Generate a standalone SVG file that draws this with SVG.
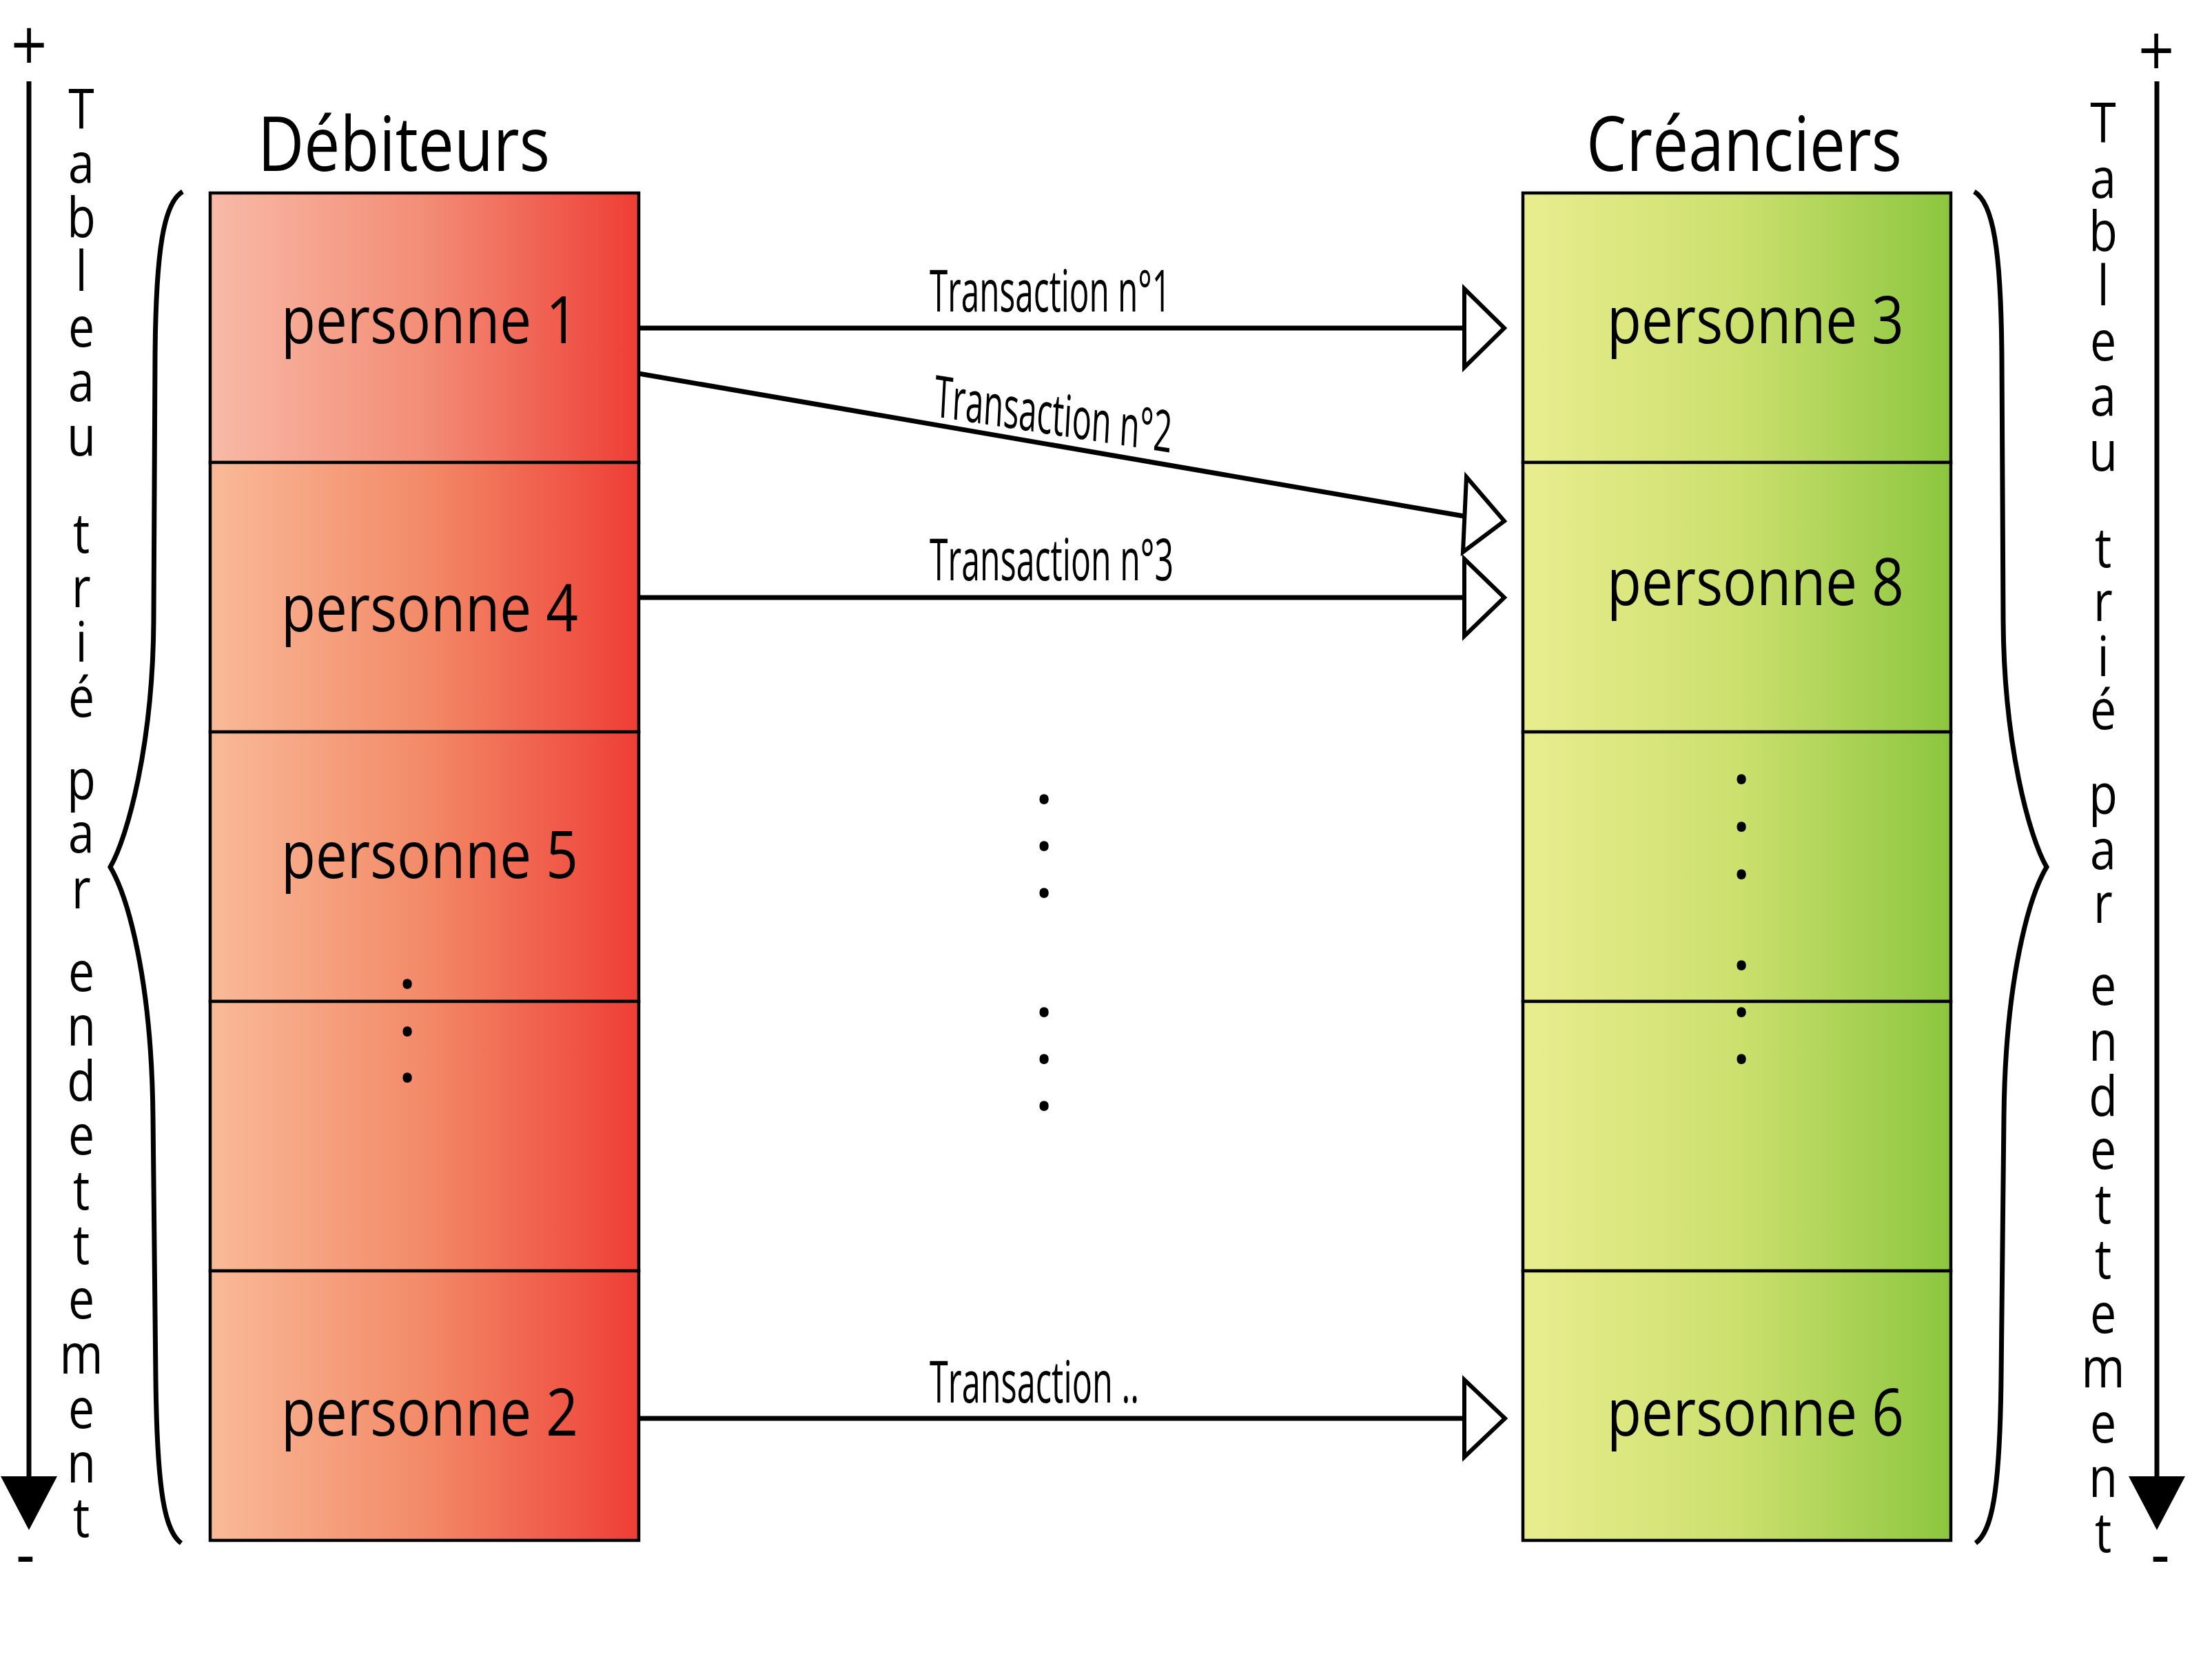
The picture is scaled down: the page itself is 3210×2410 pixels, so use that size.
<svg xmlns="http://www.w3.org/2000/svg" width="3210" height="2410" viewBox="0 0 3210 2410">
<defs>
<linearGradient id="gRed1" x1="0" y1="0" x2="1" y2="0">
<stop offset="0" stop-color="#F8BAA7"/>
<stop offset="0.5" stop-color="#F38D76"/>
<stop offset="1" stop-color="#EE3E35"/>
</linearGradient>
<linearGradient id="gRed" x1="0" y1="0" x2="1" y2="0">
<stop offset="0" stop-color="#F9BA98"/>
<stop offset="0.5" stop-color="#F38A68"/>
<stop offset="1" stop-color="#EE3E35"/>
</linearGradient>
<linearGradient id="gGreen" x1="0" y1="0" x2="1" y2="0">
<stop offset="0" stop-color="#E9ED8F"/>
<stop offset="0.5" stop-color="#CCE06E"/>
<stop offset="1" stop-color="#8CC63F"/>
</linearGradient>
<path id="brace" d="M265,278 C238,294 226,360 225,520 L223,900 C222,1080 185,1215 160,1258 C185,1300 220,1420 222,1620 L226,2000 C228,2170 240,2222 263,2239"/>
</defs>
<style>
text { font-family: "Open Sans", "Liberation Sans", sans-serif; fill: #000; }
.cell { stroke: #000; stroke-width: 4.5; }
.lbl { font-size: 96px; }
.title { font-size: 109px; }
.tr { font-size: 84px; }
.conn { stroke: #000; stroke-width: 7; fill: none; }
.head { fill: #fff; stroke: #000; stroke-width: 6; stroke-linejoin: miter; }
.brace { fill: none; stroke: #000; stroke-width: 7; }
.axis { stroke: #000; stroke-width: 7; }
.vtxt { font-size: 80px; text-anchor: middle; }
.plus { font-family: "DejaVu Sans", sans-serif; font-size: 81px; text-anchor: middle; }
.minus { font-size: 100px; text-anchor: middle; }
.dot { font-size: 115px; text-anchor: middle; }
</style>

<!-- left axis -->
<g id="axis-left">
<line class="axis" x1="42" y1="118" x2="42" y2="2150"/>
<polygon points="1,2142 83,2142 42,2220" fill="#000"/>
<text class="plus" transform="translate(42,91) scale(0.85,1)">+</text>
<text class="minus" transform="translate(37,2289) scale(0.85,1)">-</text>
<g transform="translate(118,0) scale(0.85,1)">
<text class="vtxt"><tspan x="0" y="187">T</tspan><tspan x="0" y="265">a</tspan><tspan x="0" y="344">b</tspan><tspan x="0" y="422">l</tspan><tspan x="0" y="503">e</tspan><tspan x="0" y="582">a</tspan><tspan x="0" y="661">u</tspan><tspan x="0" y="735"> </tspan><tspan x="0" y="802">t</tspan><tspan x="0" y="881">r</tspan><tspan x="0" y="960">i</tspan><tspan x="0" y="1040">é</tspan><tspan x="0" y="1100"> </tspan><tspan x="0" y="1160">p</tspan><tspan x="0" y="1237">a</tspan><tspan x="0" y="1318">r</tspan><tspan x="0" y="1380"> </tspan><tspan x="0" y="1438">e</tspan><tspan x="0" y="1517">n</tspan><tspan x="0" y="1597">d</tspan><tspan x="0" y="1675">e</tspan><tspan x="0" y="1755">t</tspan><tspan x="0" y="1834">t</tspan><tspan x="0" y="1913">e</tspan><tspan x="0" y="1993">m</tspan><tspan x="0" y="2072">e</tspan><tspan x="0" y="2151">n</tspan><tspan x="0" y="2230">t</tspan></text>
</g>
</g>

<!-- right axis -->
<g id="axis-right">
<line class="axis" x1="3130" y1="118" x2="3130" y2="2150"/>
<polygon points="3089,2142 3171,2142 3130,2220" fill="#000"/>
<text class="plus" transform="translate(3129,99) scale(0.85,1)">+</text>
<text class="minus" transform="translate(3135,2289) scale(0.85,1)">-</text>
<g transform="translate(3052,0) scale(0.85,1)">
<text class="vtxt"><tspan x="0" y="207">T</tspan><tspan x="0" y="287">a</tspan><tspan x="0" y="364">b</tspan><tspan x="0" y="443">l</tspan><tspan x="0" y="523">e</tspan><tspan x="0" y="603">a</tspan><tspan x="0" y="683">u</tspan><tspan x="0" y="755"> </tspan><tspan x="0" y="823">t</tspan><tspan x="0" y="901">r</tspan><tspan x="0" y="981">i</tspan><tspan x="0" y="1058">é</tspan><tspan x="0" y="1120"> </tspan><tspan x="0" y="1181">p</tspan><tspan x="0" y="1261">a</tspan><tspan x="0" y="1339">r</tspan><tspan x="0" y="1400"> </tspan><tspan x="0" y="1458">e</tspan><tspan x="0" y="1539">n</tspan><tspan x="0" y="1619">d</tspan><tspan x="0" y="1696">e</tspan><tspan x="0" y="1775">t</tspan><tspan x="0" y="1855">t</tspan><tspan x="0" y="1934">e</tspan><tspan x="0" y="2013">m</tspan><tspan x="0" y="2093">e</tspan><tspan x="0" y="2172">n</tspan><tspan x="0" y="2252">t</tspan></text>
</g>
</g>

<!-- braces -->
<g id="brace-left"><use href="#brace" class="brace"/></g>
<g id="brace-right"><use href="#brace" class="brace" transform="translate(3130,0) scale(-1,1)"/></g>

<!-- titles -->
<g id="title-debiteurs"><text class="title" x="374" y="248" textLength="424" lengthAdjust="spacingAndGlyphs">Débiteurs</text></g>
<g id="title-creanciers"><text class="title" x="2302" y="248" textLength="458" lengthAdjust="spacingAndGlyphs">Créanciers</text></g>

<!-- debtor cells -->
<g id="personne1"><rect class="cell" x="305" y="280" width="622" height="391" fill="url(#gRed1)"/><text class="lbl" x="408" y="498" textLength="431" lengthAdjust="spacingAndGlyphs">personne 1</text></g>
<g id="personne4"><rect class="cell" x="305" y="671" width="622" height="391" fill="url(#gRed)"/><text class="lbl" x="408" y="916" textLength="431" lengthAdjust="spacingAndGlyphs">personne 4</text></g>
<g id="personne5"><rect class="cell" x="305" y="1062" width="622" height="391" fill="url(#gRed)"/><text class="lbl" x="408" y="1274" textLength="431" lengthAdjust="spacingAndGlyphs">personne 5</text></g>
<g id="debiteur-vide"><rect class="cell" x="305" y="1453" width="622" height="391" fill="url(#gRed)"/></g>
<g id="personne2"><rect class="cell" x="305" y="1844" width="622" height="391" fill="url(#gRed)"/><text class="lbl" x="408" y="2083" textLength="431" lengthAdjust="spacingAndGlyphs">personne 2</text></g>
<g id="dots-left"><text class="dot"><tspan x="591" y="1433">.</tspan><tspan x="591" y="1502">.</tspan><tspan x="591" y="1569">.</tspan></text></g>

<!-- creditor cells -->
<g id="personne3"><rect class="cell" x="2210" y="280" width="621" height="391" fill="url(#gGreen)"/><text class="lbl" x="2332" y="498" textLength="431" lengthAdjust="spacingAndGlyphs">personne 3</text></g>
<g id="personne8"><rect class="cell" x="2210" y="671" width="621" height="391" fill="url(#gGreen)"/><text class="lbl" x="2332" y="878" textLength="431" lengthAdjust="spacingAndGlyphs">personne 8</text></g>
<g id="creancier-vide1"><rect class="cell" x="2210" y="1062" width="621" height="391" fill="url(#gGreen)"/></g>
<g id="creancier-vide2"><rect class="cell" x="2210" y="1453" width="621" height="391" fill="url(#gGreen)"/></g>
<g id="personne6"><rect class="cell" x="2210" y="1844" width="621" height="391" fill="url(#gGreen)"/><text class="lbl" x="2332" y="2083" textLength="431" lengthAdjust="spacingAndGlyphs">personne 6</text></g>
<g id="dots-right"><text class="dot"><tspan x="2527" y="1136">.</tspan><tspan x="2527" y="1205">.</tspan><tspan x="2527" y="1274">.</tspan><tspan x="2527" y="1406">.</tspan><tspan x="2527" y="1474">.</tspan><tspan x="2527" y="1542">.</tspan></text></g>

<!-- connectors -->
<g id="connectors">
<line class="conn" x1="927" y1="476" x2="2125" y2="476"/>
<polygon class="head" points="2125,419 2183,476 2125,533"/>
<text class="tr" x="1349" y="452" textLength="350" lengthAdjust="spacingAndGlyphs">Transaction n°1</text>

<line class="conn" x1="927" y1="542" x2="2125" y2="749"/>
<polygon class="head" points="2128,692 2183,756 2123,801"/>
<text class="tr" transform="translate(1355,604) scale(0.58,1) rotate(5.1)" x="0" y="0" textLength="596" lengthAdjust="spacingAndGlyphs">Transaction n°2</text>

<line class="conn" x1="927" y1="867" x2="2125" y2="867"/>
<polygon class="head" points="2125,811 2183,867 2125,923"/>
<text class="tr" x="1349" y="842" textLength="354" lengthAdjust="spacingAndGlyphs">Transaction n°3</text>

<line class="conn" x1="927" y1="2058" x2="2125" y2="2058"/>
<polygon class="head" points="2125,2002 2184,2058 2125,2114"/>
<text class="tr" x="1349" y="2035" textLength="304" lengthAdjust="spacingAndGlyphs">Transaction ..</text>

<text class="dot"><tspan x="1515" y="1165">.</tspan><tspan x="1515" y="1233">.</tspan><tspan x="1515" y="1301">.</tspan><tspan x="1515" y="1474">.</tspan><tspan x="1515" y="1542">.</tspan><tspan x="1515" y="1610">.</tspan></text>
</g>
</svg>
